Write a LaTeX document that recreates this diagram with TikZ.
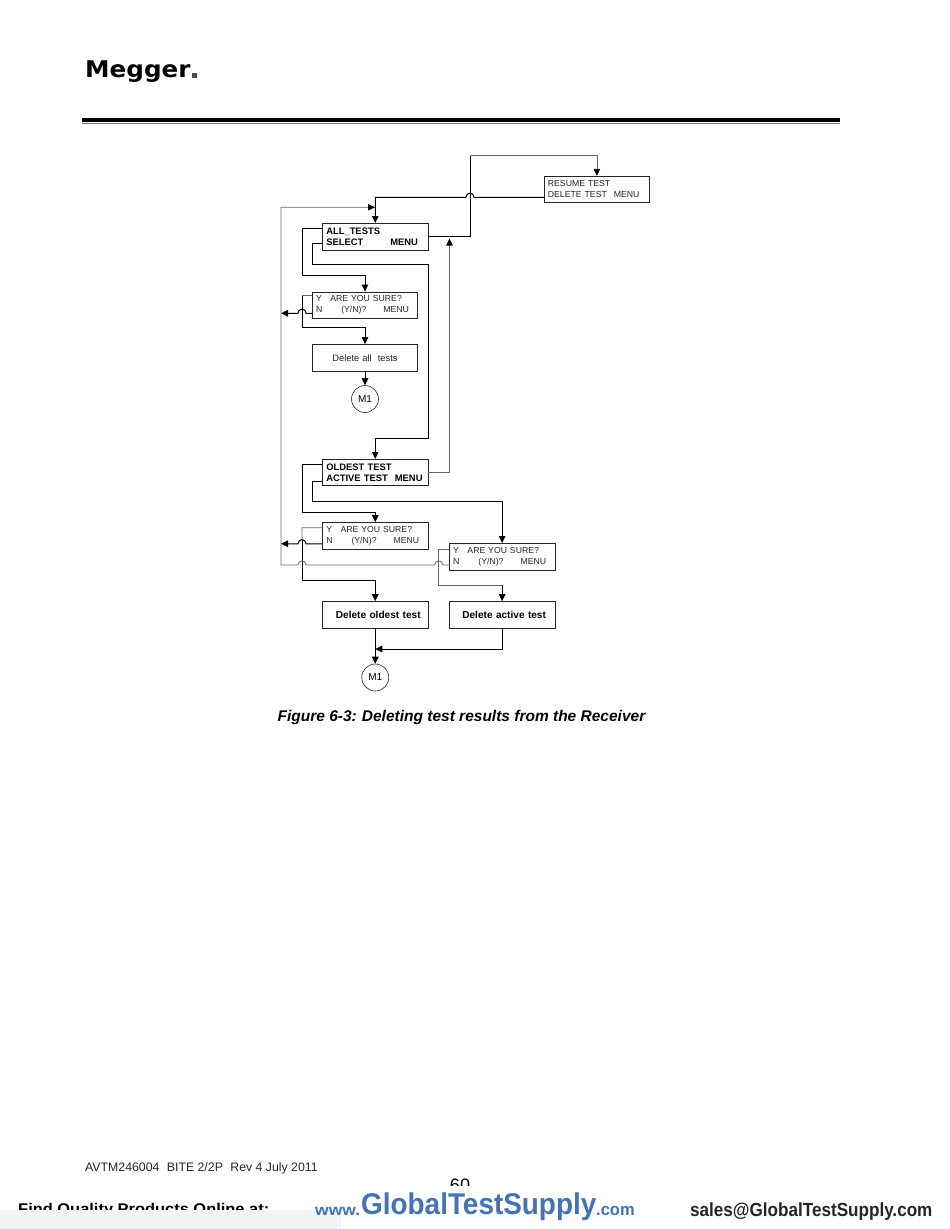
\documentclass[tikz,border=0pt]{standalone}
\usepackage{fontspec}
\setmainfont{Liberation Sans}
\newfontfamily\logofont{DejaVu Sans}
\usetikzlibrary{arrows.meta,positioning,calc}
\definecolor{footblue}{HTML}{4472B4}
\definecolor{footpale}{HTML}{F0F3F8}
\tikzset{
  panel/.style={draw=black!85, line width=0.8pt, fill=white, minimum width=105.5pt, minimum height=26.5pt,
    text width=98pt, inner xsep=3.75pt, inner ysep=0pt, align=left, font=\fontsize{8.7}{11}\selectfont, text=black!85},
  boldpanel/.style={panel, font=\fontsize{9.4}{11.2}\selectfont\bfseries, text=black},
  marker/.style={circle, draw=black!85, line width=0.6pt, minimum size=27pt, inner sep=0pt, font=\fontsize{10}{11}\selectfont},
  link/.style={draw=black, line width=1pt},
  thinlink/.style={draw=black!60, line width=0.8pt},
  tip/.style={-{Triangle[length=7pt,width=6.5pt,black]}},
  hop/.style={to path={.. controls ($(\tikztostart)+(0,-5.5)$) and ($(\tikztotarget)+(0,-5.5)$) .. (\tikztotarget)}}
}
\begin{document}
\begin{tikzpicture}[x=1pt, y=-1pt]
    \useasboundingbox (0, 0) rectangle (950, 1229);

    % Header
    \node[font=\fontsize{23}{23}\selectfont\logofont\bfseries, xscale=1.07, transform shape, anchor=base west, inner sep=0pt] (logo) at (85, 77) {Megger};
    \node[fill=black!70, minimum size=4.4pt, inner sep=0pt] (logodot) at (194.5, 75.3) {};
    \draw[black, line width=3.6pt] (82, 120.2) -- (840, 120.2);
    \draw[black!55, line width=1pt] (82, 123.6) -- (840, 123.6);

    % Boxes
    \node[panel] (resume) at (596.9, 189.5) {RESUME TEST\\DELETE TEST\hspace{7pt}MENU};
    \node[boldpanel] (alltests) at (375.25, 236.7) {ALL\_TESTS\\SELECT\hspace{27pt}MENU};
    \node[panel] (sureall) at (365, 305.25) {Y\hspace{8.5pt}ARE YOU SURE?\\N\hspace{19pt}(Y/N)?\hspace{17pt}MENU};
    \node[panel, align=center, font=\fontsize{9.3}{11}\selectfont] (delall) at (365, 357.75) {Delete all\hspace{3pt} tests};
    \node[marker] (mone) at (365, 399) {M1};
    \node[boldpanel] (oldest) at (375.25, 472.5) {OLDEST TEST\\ACTIVE TEST\hspace{7pt}MENU};
    \node[panel] (sureold) at (375.25, 535.85) {Y\hspace{8.5pt}ARE YOU SURE?\\N\hspace{19pt}(Y/N)?\hspace{17pt}MENU};
    \node[panel] (sureact) at (502.15, 556.65) {Y\hspace{8.5pt}ARE YOU SURE?\\N\hspace{19pt}(Y/N)?\hspace{17pt}MENU};
    \node[boldpanel, align=center, font=\fontsize{10.1}{11}\selectfont\bfseries] (deloldest) at (375.25, 614.85) {\hspace*{6pt}Delete oldest test};
    \node[boldpanel, align=center, font=\fontsize{10.1}{11}\selectfont\bfseries] (delactive) at (502.15, 614.85) {\hspace*{4pt}Delete active test};
    \node[marker] (mtwo) at (375.25, 677.5) {M1};

    % Links round the first menu
    \draw[link] (alltests.east) -- (470, 236.7) -- (470, 155);
    \draw[thinlink, tip] (470, 155) -| (resume.north);
    \draw[link, tip] ([yshift=-7.8pt]resume.west) -- (474, 197.3) to[hop] (466, 197.3) -| (alltests.north);
    \draw[link, tip] ([yshift=8pt]alltests.west) -- (302, 228.7) -- (302, 275) -| (sureall.north);
    \draw[link, tip] ([yshift=-7pt]alltests.west) -- (312, 243.7) -- (312, 264.5) -- (428.3, 264.5) -- (428.3, 438.3) -| (oldest.north);
    \draw[thinlink] ([yshift=9.5pt]sureall.west) -- (302, 295.75);
    \draw[link, tip] (302, 295.75) -- (302, 327.7) -| (delall.north);
    \draw[link, tip] ([yshift=-8pt]sureall.west) -- (306, 313.25) to[hop] (298, 313.25) -- (281, 313.25);
    \draw[link, tip] (delall) -- (mone);

    % Links round the second menu
    \draw[thinlink, tip] (oldest.east) -- (449.5, 472.5) -- (449.5, 238.5);
    \draw[link, tip] ([yshift=8.5pt]oldest.west) -- (302, 464) -- (302, 512.3) -| (sureold.north);
    \draw[link, tip] ([yshift=-8.5pt]oldest.west) -- (312, 481) -- (312, 501) -| (sureact.north);
    \draw[thinlink] ([yshift=8.2pt]sureold.west) -- (302, 527.65) -- (302, 540);
    \draw[link, tip] (302, 540) -- (302, 580.7) -| (deloldest.north);
    \draw[link, tip] ([yshift=-7.9pt]sureold.west) -- (306, 543.75) to[hop] (298, 543.75) -- (281, 543.75);
    \draw[thinlink, tip] ([yshift=-8.35pt]sureact.west) -- (442.7, 565) to[hop] (434.7, 565) -- (306, 565) to[hop] (298, 565) -- (281, 565) -- (281, 207.3) -- (375, 207.3);
    \draw[thinlink] ([yshift=7.65pt]sureact.west) -- (438.7, 549) -- (438.7, 585.3) -- (502.15, 585.3);
    \draw[link, tip] (502.15, 585.3) -- (delactive.north);
    \draw[link, tip] (deloldest) -- (mtwo);
    \draw[link, tip] (delactive.south) |- (375.25, 649);

    % Caption
    \node[font=\fontsize{15.5}{18}\selectfont\bfseries\itshape, inner sep=0pt] (caption) at (461.5, 717) {Figure 6-3:\hspace{5pt}Deleting test results from the Receiver};

    % Footer
    \node[font=\fontsize{12.3}{14}\selectfont, anchor=west, inner sep=0pt, text=black!85] (docref) at (85, 1168) {AVTM246004\hspace{4pt} BITE 2/2P\hspace{4pt} Rev 4 July 2011};
    \node[font=\fontsize{18}{20}\selectfont, inner sep=0pt] (pageno) at (460, 1185) {60};
    \fill[white] (0, 1186) rectangle (950, 1229);
    \node[font=\fontsize{15.5}{18}\selectfont\bfseries, anchor=base west, inner sep=0pt, xscale=1.06, transform shape] (findtext) at (18, 1214) {Find Quality Products Online at:};
    \fill[white] (271, 1195) rectangle (314, 1229);
    \fill[footpale] (0, 1209.5) rectangle (341, 1229);
    \node[font=\fontsize{15.5}{18}\selectfont\bfseries, text=footblue, anchor=base west, inner sep=0pt, xscale=1.13, transform shape] (wwwtext) at (315, 1215) {www.};
    \node[font=\fontsize{30}{34}\selectfont\bfseries, text=footblue, anchor=base west, inner sep=0pt, xscale=0.93, transform shape] (gtstext) at (361, 1214) {GlobalTestSupply};
    \node[font=\fontsize{17}{20}\selectfont\bfseries, text=footblue, anchor=base west, inner sep=0pt, xscale=0.97, transform shape] (comtext) at (596, 1215) {.com};
    \node[font=\fontsize{19}{22}\selectfont\bfseries, anchor=base west, inner sep=0pt, xscale=0.9, transform shape, text=black!85] (mailtext) at (690, 1216) {sales@GlobalTestSupply.com};
\end{tikzpicture}
\end{document}
